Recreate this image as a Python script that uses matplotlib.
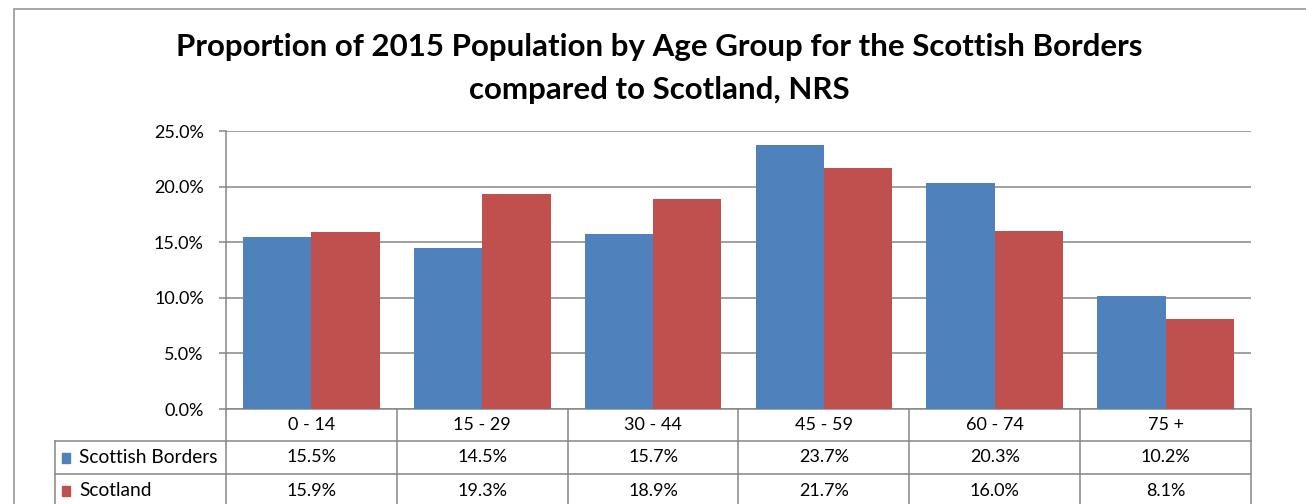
import matplotlib
matplotlib.use("Agg")
import matplotlib.pyplot as plt
from matplotlib.patches import Rectangle
from matplotlib.lines import Line2D
from matplotlib.transforms import blended_transform_factory
import numpy as np

categories = ["0 - 14", "15 - 29", "30 - 44", "45 - 59", "60 - 74", "75 +"]
borders = [15.5, 14.5, 15.7, 23.7, 20.3, 10.2]
scotland = [15.9, 19.3, 18.9, 21.7, 16.0, 8.1]
series_names = ["Scottish Borders", "Scotland"]
yticks = [0, 5, 10, 15, 20, 25]
title_lines = ["Proportion of 2015 Population by Age Group for the Scottish Borders",
               "compared to Scotland, NRS"]

W, H = 1306, 504
BLUE = "#4F81BD"
RED = "#C0504D"
GRID = "#868686"
FONT = "Lato"

plt.rcParams["font.family"] = [FONT, "DejaVu Sans"]

fig = plt.figure(figsize=(W / 100, H / 100), dpi=100)

def fx(x):
    return x / W

def fy(y):
    return 1 - y / H

# outer chart border
fig.patches.append(Rectangle((fx(14), fy(520)), fx(1400) - fx(14), fy(9.5) - fy(520),
                             transform=fig.transFigure, fill=False, edgecolor="#A0A0A0",
                             linewidth=1.3))

left, right, top, bottom = 226, 1251, 131, 409
ax = fig.add_axes([fx(left), fy(bottom), fx(right) - fx(left), fy(top) - fy(bottom)])

x = np.arange(len(categories))
w = 0.4
ax.bar(x - w / 2, borders, width=w, color=BLUE, edgecolor="none", zorder=3)
ax.bar(x + w / 2, scotland, width=w, color=RED, edgecolor="none", zorder=3)

ax.set_xlim(-0.5, len(categories) - 0.5)
ax.set_ylim(0, 25)
ax.set_yticks(yticks)
ax.set_yticklabels([f"{v:.1f}%" for v in yticks], fontsize=13)
ax.set_xticks([])
ax.yaxis.grid(True, color=GRID, linewidth=1.1, zorder=0)
ax.set_axisbelow(True)
ax.tick_params(axis="y", length=5, width=1.1, color=GRID, pad=11)
for s in ["top", "right"]:
    ax.spines[s].set_visible(False)
for s in ["left", "bottom"]:
    ax.spines[s].set_color(GRID)
    ax.spines[s].set_linewidth(1.1)

fig.text(fx(659), fy(47), title_lines[0], ha="center", va="center", fontsize=22.5, fontweight="bold")
fig.text(fx(659), fy(90), title_lines[1], ha="center", va="center", fontsize=22.5, fontweight="bold")

# data table
tr = blended_transform_factory(ax.transData, fig.transFigure)
row_lines = [409, 441, 474, 507]
lw = 1.1
for yy in row_lines[1:]:
    fig.add_artist(Line2D([fx(55), fx(right)], [fy(yy), fy(yy)], transform=fig.transFigure,
                          color=GRID, linewidth=lw))
for b in np.arange(-0.5, len(categories), 1.0):
    fig.add_artist(Line2D([b, b], [fy(409), fy(520)], transform=tr, color=GRID, linewidth=lw))
fig.add_artist(Line2D([fx(55), fx(55)], [fy(441), fy(520)], transform=fig.transFigure,
                      color=GRID, linewidth=lw))

hdr_y = (409 + 441) / 2
for i, c in enumerate(categories):
    fig.text(i, fy(hdr_y), c, transform=tr, ha="center", va="center", fontsize=13)

rows = [(series_names[0], borders, BLUE), (series_names[1], scotland, RED)]
for r, (name, vals, col) in enumerate(rows):
    yc = (row_lines[r + 1] + row_lines[r + 2]) / 2
    fig.patches.append(Rectangle((fx(62), fy(yc + 5)), fx(70) - fx(62), fy(yc - 5) - fy(yc + 5),
                                 transform=fig.transFigure, color=col))
    fig.text(fx(79), fy(yc), name, ha="left", va="center", fontsize=13.8)
    for i, v in enumerate(vals):
        fig.text(i, fy(yc), f"{v:.1f}%", transform=tr, ha="center", va="center", fontsize=13)

fig.savefig("out.png", dpi=100)
